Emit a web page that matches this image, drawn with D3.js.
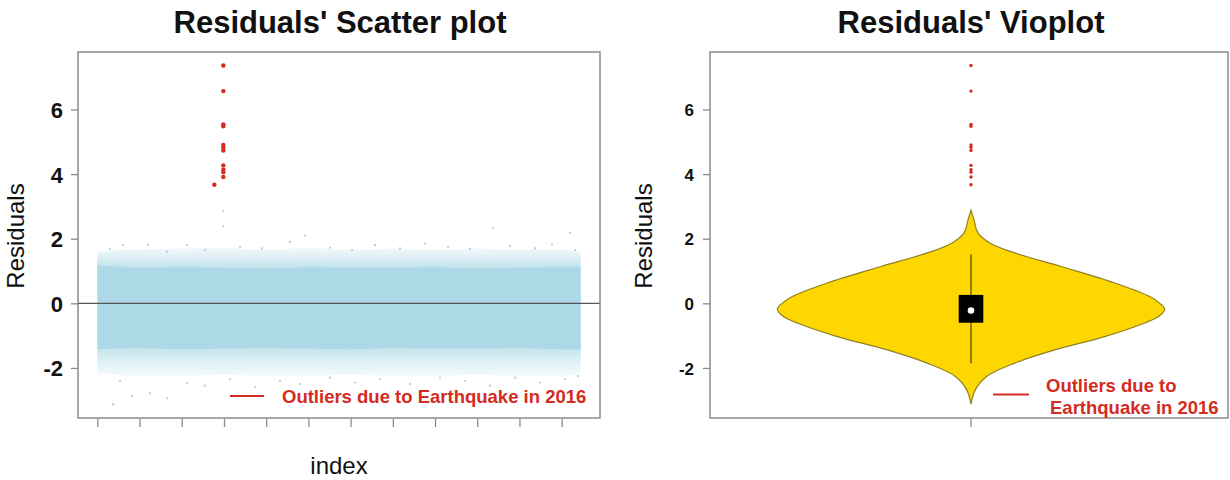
<!DOCTYPE html>
<html>
<head>
<meta charset="utf-8">
<script src="https://cdn.jsdelivr.net/npm/d3@7"></script>
<style>
	body {margin: 0; background: #fff;}
	svg text {font-family: 'Liberation Sans', Arial, sans-serif;}
</style>
</head>
<body>
<svg id="chart" width="1230" height="480"></svg>
<script>
	// number of observations and the (unlabelled) index ticks
	var nObs = 114500;
	var indexTicks = [0, 10000, 20000, 30000, 40000, 50000, 60000, 70000, 80000, 90000, 100000, 110000];
	var residualTicks = [-2, 0, 2, 4, 6];

	// dense residual band along the index
	var bandIndex = [1, 10000, 20000, 30000, 40000, 50000, 60000, 70000, 80000, 90000, 100000, 110000, 114500];
	var denseHi  = [1.18, 1.10, 1.12, 1.10, 1.08, 1.12, 1.10, 1.10, 1.12, 1.08, 1.10, 1.12, 1.12];
	var denseLo  = [-1.42, -1.38, -1.42, -1.40, -1.38, -1.40, -1.42, -1.38, -1.40, -1.40, -1.38, -1.42, -1.42];
	var fringeHi = [1.60, 1.68, 1.70, 1.72, 1.65, 1.72, 1.66, 1.70, 1.66, 1.70, 1.66, 1.66, 1.58];
	var fringeLo = [-2.15, -2.25, -2.25, -2.20, -2.25, -2.25, -2.20, -2.25, -2.25, -2.20, -2.25, -2.25, -2.15];

	// isolated residuals outside the band
	var sparseIndex = [3000, 6090, 12010, 16510, 21250, 25510, 33810, 39020, 45650, 49200, 55130, 60340,
		65790, 71710, 77630, 83080, 88290, 93740, 97770, 103690, 107720, 111980, 113170, 29850, 29850,
		3720, 8220, 12480, 16510, 21250, 5380, 25510, 31440, 37360, 43280, 48020, 55130, 61050, 66970,
		74080, 81190, 87110, 93030, 98950, 104870, 110800, 113880];
	var sparseValue = [1.68, 1.81, 1.81, 1.60, 1.81, 1.65, 1.75, 1.70, 1.90, 2.10, 1.72, 1.65,
		1.80, 1.70, 1.85, 1.75, 1.68, 2.33, 1.78, 1.70, 1.82, 2.18, 1.65, 2.85, 2.38,
		-3.13, -2.87, -2.78, -2.94, -2.47, -2.40, -2.55, -2.35, -2.60, -2.40, -2.50, -2.30, -2.45, -2.35,
		-2.50, -2.30, -2.40, -2.55, -2.30, -2.45, -2.35, -2.25];

	// earthquake outliers
	var outlierIndex = [29850, 29850, 29850, 29850, 29850, 29850, 29850, 29850, 29850, 29850, 29850, 27720];
	var outlierValue = [7.36, 6.57, 5.54, 5.48, 4.90, 4.83, 4.73, 4.27, 4.14, 4.06, 3.91, 3.67];

	// violin: kernel density (relative) and box statistics
	var violinValue   = [2.88, 2.59, 2.18, 1.87, 1.56, 1.14, 0.63, 0.21, 0.00, -0.18, -0.40, -0.61, -1.03, -1.44, -1.85, -2.27, -2.68, -3.12];
	var violinDensity = [0, 0.015, 0.036, 0.097, 0.226, 0.465, 0.742, 0.923, 0.975, 1.0, 0.97, 0.897, 0.69, 0.432, 0.226, 0.079, 0.022, 0];
	var boxStats = {lower: -1.86, q1: -0.60, median: -0.22, q3: 0.26, upper: 1.52};

	var legendText = 'Outliers due to Earthquake in 2016';

(function() {
	'use strict';

	var svg = d3.select('#chart');
	var red = '#d42b20', frame = '#8c8c8c';
	var top = 52, bottom = 418;

	var yLo = -3.13, yHi = 7.36, yPad = (yHi - yLo) * 0.04;
	var y = d3.scaleLinear().domain([yLo - yPad, yHi + yPad]).range([bottom, top]);

	var xPad = (nObs - 1) * 0.04;
	var x = d3.scaleLinear().domain([1 - xPad, nObs + xPad]).range([78, 600]);

	function yAxis(g, tx, size, labelX) {
		g.attr('transform', 'translate(' + tx + ',0)')
			.call(d3.axisLeft(y).tickValues(residualTicks).tickSize(7).tickPadding(labelX)
				.tickFormat(function(d) {return String(d);}));  // plain hyphen like R
		g.select('.domain').remove();
		g.selectAll('.tick line').attr('stroke', frame).attr('stroke-width', 1.3);
		g.selectAll('.tick text')
			.attr('fill', '#111').attr('font-size', size).attr('font-weight', 'bold')
			.attr('dy', '0.36em')
			.attr('font-family', "'Liberation Sans', Arial, sans-serif");}

	function title(text, cx) {
		svg.append('text').attr('x', cx).attr('y', 33)
			.attr('text-anchor', 'middle').attr('font-size', 31).attr('font-weight', 'bold')
			.attr('fill', '#111').text(text);}

	function yLabel(cx) {
		svg.append('text')
			.attr('transform', 'translate(' + cx + ',' + 236 + ') rotate(-90)')
			.attr('text-anchor', 'middle').attr('font-size', 24).attr('fill', '#111')
			.text('Residuals');}

	// ---------- scatter plot ----------
	var band = bandIndex.map(function(d, i) {
		return {i: d, hi: denseHi[i], lo: denseLo[i], fhi: fringeHi[i], flo: fringeLo[i]};});

	var defs = svg.append('defs');
	var g0 = y(1.9), g1 = y(-2.5);
	var grad = defs.append('linearGradient').attr('id', 'fringe')
		.attr('gradientUnits', 'userSpaceOnUse')
		.attr('x1', 0).attr('x2', 0).attr('y1', g0).attr('y2', g1);
	[[1.9, 0], [1.5, 0.35], [1.15, 0.7], [-1.4, 0.7], [-1.85, 0.35], [-2.5, 0]].forEach(function(s) {
		grad.append('stop')
			.attr('offset', (y(s[0]) - g0) / (g1 - g0))
			.attr('stop-color', '#add8e6').attr('stop-opacity', s[1]);});

	svg.append('path').datum(band)
		.attr('fill', 'url(#fringe)')
		.attr('d', d3.area().curve(d3.curveMonotoneX)
			.x(function(d) {return x(d.i);})
			.y0(function(d) {return y(d.flo);})
			.y1(function(d) {return y(d.fhi);}));

	svg.append('path').datum(band)
		.attr('fill', '#add8e6')
		.attr('d', d3.area().curve(d3.curveMonotoneX)
			.x(function(d) {return x(d.i);})
			.y0(function(d) {return y(d.lo);})
			.y1(function(d) {return y(d.hi);}));

	svg.append('g').selectAll('circle')
		.data(sparseIndex.map(function(d, i) {return [d, sparseValue[i]];}))
		.enter().append('circle')
		.attr('cx', function(d) {return x(d[0]);})
		.attr('cy', function(d) {return y(d[1]);})
		.attr('r', 1.1)
		.attr('fill', '#a6cfdf');

	svg.append('line')
		.attr('x1', 78).attr('x2', 600).attr('y1', y(0)).attr('y2', y(0))
		.attr('stroke', '#555').attr('stroke-width', 1.1);

	svg.append('g').selectAll('circle')
		.data(outlierIndex.map(function(d, i) {return [d, outlierValue[i]];}))
		.enter().append('circle')
		.attr('cx', function(d) {return x(d[0]);})
		.attr('cy', function(d) {return y(d[1]);})
		.attr('r', 2.2)
		.attr('fill', red);

	svg.append('rect')
		.attr('x', 78).attr('y', top).attr('width', 600 - 78).attr('height', bottom - top)
		.attr('fill', 'none').attr('stroke', frame).attr('stroke-width', 1.5);

	var xAxis = svg.append('g').attr('transform', 'translate(0,' + (bottom + 1) + ')')
		.call(d3.axisBottom(x).tickValues(indexTicks).tickSize(8).tickFormat(''));
	xAxis.select('.domain').remove();
	xAxis.selectAll('.tick line').attr('stroke', frame).attr('stroke-width', 1.3);

	yAxis(svg.append('g'), 78, 22, 8);
	title("Residuals' Scatter plot", 340);
	yLabel(24);

	svg.append('text').attr('x', 339).attr('y', 474)
		.attr('text-anchor', 'middle').attr('font-size', 24).attr('fill', '#111').text('index');

	svg.append('line').attr('x1', 230).attr('x2', 264).attr('y1', 396).attr('y2', 396)
		.attr('stroke', red).attr('stroke-width', 2);
	svg.append('text').attr('x', 282).attr('y', 402.5)
		.attr('font-size', 18.5).attr('font-weight', 'bold').attr('fill', red).text(legendText);

	// ---------- violin plot ----------
	var cx = 971;
	var w = d3.scaleLinear().domain([0, 1]).range([0, 193.7]);
	var violin = violinValue.map(function(d, i) {return {v: d, dens: violinDensity[i]};});

	svg.append('path').datum(violin)
		.attr('fill', '#ffd700').attr('stroke', '#8f8020').attr('stroke-width', 1.2)
		.attr('d', d3.area().curve(d3.curveCatmullRom)
			.y(function(d) {return y(d.v);})
			.x0(function(d) {return cx - w(d.dens);})
			.x1(function(d) {return cx + w(d.dens);}));

	svg.append('line')
		.attr('x1', cx).attr('x2', cx)
		.attr('y1', y(boxStats.upper)).attr('y2', y(boxStats.lower))
		.attr('stroke', '#222').attr('stroke-width', 1);

	svg.append('rect')
		.attr('x', cx - 12.3).attr('width', 24.6)
		.attr('y', y(boxStats.q3)).attr('height', y(boxStats.q1) - y(boxStats.q3))
		.attr('fill', '#000');

	svg.append('circle')
		.attr('cx', cx).attr('cy', y(boxStats.median)).attr('r', 3.3)
		.attr('fill', '#fff');

	svg.append('g').selectAll('circle')
		.data(outlierValue)
		.enter().append('circle')
		.attr('cx', cx)
		.attr('cy', function(d) {return y(d);})
		.attr('r', 1.7)
		.attr('fill', red);

	svg.append('rect')
		.attr('x', 710).attr('y', top).attr('width', 1228 - 710).attr('height', bottom - top)
		.attr('fill', 'none').attr('stroke', frame).attr('stroke-width', 1.5);

	svg.append('line').attr('x1', cx).attr('x2', cx).attr('y1', bottom + 1).attr('y2', bottom + 9)
		.attr('stroke', frame).attr('stroke-width', 1.3);

	yAxis(svg.append('g'), 710, 17, 9);
	title("Residuals' Vioplot", 971);
	yLabel(652);

	svg.append('line').attr('x1', 993).attr('x2', 1029).attr('y1', 394.5).attr('y2', 394.5)
		.attr('stroke', red).attr('stroke-width', 2);
	svg.append('text').attr('x', 1046).attr('y', 391.5)
		.attr('font-size', 18.5).attr('font-weight', 'bold').attr('fill', red)
		.text(legendText.slice(0, 15));
	svg.append('text').attr('x', 1050).attr('y', 414)
		.attr('font-size', 18.5).attr('font-weight', 'bold').attr('fill', red)
		.text(legendText.slice(16));
})();
</script>
</body>
</html>
